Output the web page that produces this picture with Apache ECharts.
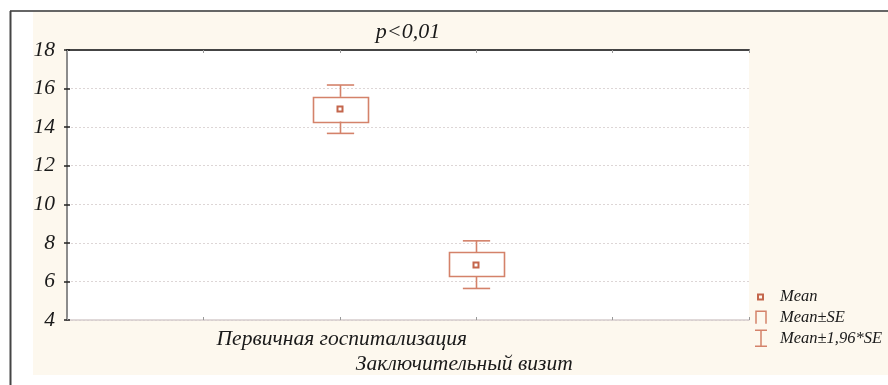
<!DOCTYPE html>
<html>
<head>
<meta charset="utf-8">
<script src="https://cdn.jsdelivr.net/npm/echarts@6/dist/echarts.min.js"></script>
<style>
  html, body { margin: 0; padding: 0; background: #fff; }
  #chart { width: 888px; height: 385px; }
</style>
</head>
<body>
<div id="chart"></div>
<script>
// Group names, group means and standard errors
const categories = ['Первичная госпитализация', 'Заключительный визит'];
const means = [14.93, 6.87];
const stdErrors = [0.64, 0.63];
const yTicks = [4, 6, 8, 10, 12, 14, 16, 18];
const legendNames = ['Mean', 'Mean±SE', 'Mean±1,96*SE'];
const titleText = 'p<0,01';

const FONT = '"Liberation Serif", "Times New Roman", serif';
const BOX = '#d4826a';
const MEAN = '#c4664c';
const CAT_OFFSET = 2; // first group sits on the second tick of the x scale

const rows = categories.map((c, i) => [i + CAT_OFFSET, means[i], stdErrors[i]]);

const chart = echarts.init(document.getElementById('chart'), null, { renderer: 'canvas' });

function meanItem(params, api) {
  const p = api.coord([api.value(0), api.value(1)]);
  return {
    type: 'rect',
    shape: { x: Math.round(p[0]) - 2.5, y: Math.round(p[1]) - 2.5, width: 5, height: 5 },
    style: { fill: 'none', stroke: MEAN, lineWidth: 2 }
  };
}

function seItem(params, api) {
  const x = api.value(0), m = api.value(1), s = api.value(2);
  const top = api.coord([x, m + s]);
  const bot = api.coord([x, m - s]);
  const w = api.size([1, 0])[0] * 0.4;
  return {
    type: 'rect',
    shape: { x: Math.round(top[0] - w / 2) + 0.5, y: Math.round(top[1]) + 0.5, width: Math.round(w), height: Math.round(bot[1] - top[1]) },
    style: { fill: 'none', stroke: BOX, lineWidth: 1.6 }
  };
}

function ciItem(params, api) {
  const x = api.value(0), m = api.value(1), s = api.value(2);
  const hi = api.coord([x, m + 1.96 * s]);
  const seHi = api.coord([x, m + s]);
  const seLo = api.coord([x, m - s]);
  const lo = api.coord([x, m - 1.96 * s]);
  const cap = api.size([1, 0])[0] * 0.2;
  const cx = Math.round(hi[0]) + 0.5;
  const st = { stroke: BOX, lineWidth: 1.6 };
  return {
    type: 'group',
    children: [
      { type: 'line', shape: { x1: cx - cap / 2, y1: hi[1], x2: cx + cap / 2, y2: hi[1] }, style: st },
      { type: 'line', shape: { x1: cx, y1: hi[1], x2: cx, y2: seHi[1] }, style: st },
      { type: 'line', shape: { x1: cx, y1: seLo[1], x2: cx, y2: lo[1] }, style: st },
      { type: 'line', shape: { x1: cx - cap / 2, y1: lo[1], x2: cx + cap / 2, y2: lo[1] }, style: st }
    ]
  };
}

const option = {
  backgroundColor: '#ffffff',
  animation: false,
  title: {
    text: titleText,
    left: 403,
    top: 16,
    textAlign: 'center',
    textStyle: { fontFamily: FONT, fontStyle: 'italic', fontWeight: 'normal', fontSize: 22, color: '#1a1a1a' }
  },
  graphic: [
    { type: 'rect', z: -10, silent: true, shape: { x: 33, y: 12, width: 855, height: 363 }, style: { fill: '#fdf8ee' } },
    { type: 'line', z: 10, silent: true, shape: { x1: 10, y1: 11, x2: 888, y2: 11 }, style: { stroke: '#333', lineWidth: 1.5 } },
    { type: 'line', z: 10, silent: true, shape: { x1: 10.5, y1: 11, x2: 10.5, y2: 385 }, style: { stroke: '#444', lineWidth: 2 } }
  ],
  legend: {
    orient: 'vertical',
    left: 749,
    top: 287,
    padding: 0,
    itemWidth: 25,
    itemHeight: 18,
    itemGap: 1,
    symbolKeepAspect: true,
    textStyle: { fontFamily: FONT, fontStyle: 'italic', fontSize: 16.5, color: '#1a1a1a' },
    data: [
      { name: legendNames[0], icon: 'path://M0 0M25 18M8 6.5h5v5h-5z',
        itemStyle: { color: 'rgba(0,0,0,0)', borderColor: MEAN, borderWidth: 2 } },
      { name: legendNames[1], icon: 'path://M0 0M25 18M6 15V2.5H16V15',
        itemStyle: { color: 'rgba(0,0,0,0)', borderColor: BOX, borderWidth: 1.5 } },
      { name: legendNames[2], icon: 'path://M0 0M25 18M5 1H17M11 1V17M5 17H17',
        itemStyle: { color: 'rgba(0,0,0,0)', borderColor: BOX, borderWidth: 1.5 } }
    ]
  },
  grid: {
    left: 67, right: 139, top: 50, bottom: 65,
    show: true, backgroundColor: '#ffffff', borderWidth: 0
  },
  xAxis: [
    {
      type: 'value', min: 0, max: 5, interval: 1, position: 'bottom',
      axisLine: { show: true, lineStyle: { color: '#d6cdcd', width: 1.5 } },
      axisTick: { show: true, inside: true, length: 3, lineStyle: { color: '#999' } },
      splitLine: { show: false },
      axisLabel: {
        show: true, margin: 8,
        formatter: v => {
          const i = v - CAT_OFFSET;
          if (i === 0) return '{a|' + categories[0] + '}';
          if (i === 1) return '{b|' + categories[1] + '}';
          return '';
        },
        rich: {
          a: { fontFamily: FONT, fontStyle: 'italic', fontSize: 21.5, color: '#1a1a1a', padding: [0, 0, 0, 4] },
          b: { fontFamily: FONT, fontStyle: 'italic', fontSize: 21.5, color: '#1a1a1a', padding: [25, 24, 0, 0] }
        }
      }
    },
    {
      type: 'value', min: 0, max: 5, interval: 1, position: 'top',
      axisLine: { show: true, lineStyle: { color: '#444', width: 2 } },
      axisTick: { show: true, inside: true, length: 3, lineStyle: { color: '#999' } },
      axisLabel: { show: false },
      splitLine: { show: false }
    }
  ],
  yAxis: [
    {
      type: 'value', min: 4, max: 18, interval: 2, position: 'left',
      axisLine: { show: true, lineStyle: { color: '#cfc6c6', width: 1.5 } },
      axisTick: { show: true, inside: true, length: 3, lineStyle: { color: '#222', width: 1.5 } },
      splitLine: { show: true, lineStyle: { color: '#ddd6d6', type: [2, 2] } },
      axisLabel: {
        margin: 12,
        formatter: v => (yTicks.includes(v) ? String(v) : ''),
        fontFamily: FONT, fontStyle: 'italic', fontSize: 21.5, color: '#1a1a1a'
      }
    },
    {
      type: 'value', min: 4, max: 18, interval: 2, position: 'right',
      axisLine: { show: true, lineStyle: { color: '#8c8c8c', width: 2 } },
      axisTick: { show: true, inside: true, length: 3, lineStyle: { color: '#222', width: 1.5 } },
      axisLabel: { show: false },
      splitLine: { show: false }
    }
  ],
  series: [
    { name: legendNames[1], type: 'custom', renderItem: seItem, data: rows, itemStyle: { color: BOX }, z: 3 },
    { name: legendNames[2], type: 'custom', renderItem: ciItem, data: rows, itemStyle: { color: BOX }, z: 3 },
    { name: legendNames[0], type: 'custom', renderItem: meanItem, data: rows, itemStyle: { color: MEAN }, z: 4 }
  ]
};

chart.setOption(option);
</script>
</body>
</html>
